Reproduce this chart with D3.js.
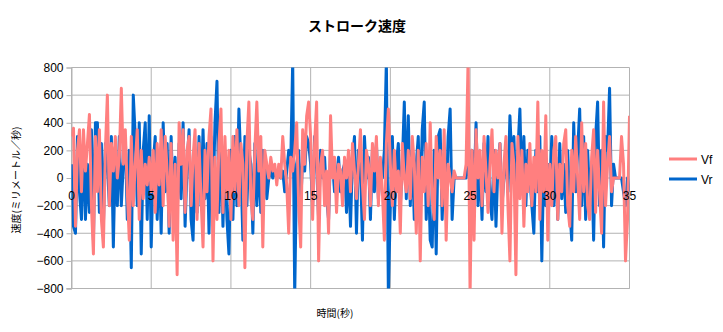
<!DOCTYPE html>
<html><head><meta charset="utf-8">
<script src="https://cdn.jsdelivr.net/npm/d3@7"></script>
<style>body{margin:0;background:#fff}svg{display:block}</style>
</head><body>
<svg id="c" width="723" height="332"></svg>
<script>
const title = "ストローク速度";
const xTitle = "時間(秒)";
const yTitle = "速度(ミリメートル／秒)";
const seriesNames = ["Vf", "Vr"];
const xTicks = [0, 5, 10, 15, 20, 25, 30, 35];
const yTicks = [-800, -600, -400, -200, 0, 200, 400, 600, 800];
const timeStep = 0.125;

const vf = [
 300,360,-350,200,350,-100,350,50,250,460,-200,-550,300,-100,350,-300,-500,200,600,-200,250,50,300,0,150,650,100,350,-100,-450,300,-200,100,350,-300,200,-150,100,-50,150,
 -100,200,-250,250,-50,350,-200,300,50,-350,250,-450,100,-700,400,100,350,-250,200,300,-200,150,350,-300,250,-150,-500,200,-100,300,500,-600,150,-300,250,500,-250,300,-150,200,
 -300,300,-100,350,-200,250,100,-650,250,550,-150,-300,200,550,50,300,-500,200,100,0,150,50,100,-50,100,0,300,100,-50,-400,150,50,200,400,-200,-500,350,100,450,550,
 300,-300,250,550,-600,100,200,-200,50,-400,450,0,150,-250,100,50,-200,150,0,200,-100,250,50,-150,100,350,-50,-300,200,100,-200,250,50,300,-200,150,-100,-450,250,500,
 100,-200,200,-100,50,-400,250,0,-100,200,-150,300,100,-400,200,-600,150,-100,250,-200,400,-150,-300,300,0,200,-200,350,-450,100,0,-100,50,0,0,0,0,0,100,850,
 -850,200,-450,350,0,200,-200,300,50,-250,100,350,-100,200,0,250,-400,100,300,-200,-600,250,100,-700,300,-150,200,-350,100,-100,250,-200,150,-100,550,-300,200,-100,450,-450,
 100,-200,200,300,-300,100,-100,250,350,-200,-350,200,-100,300,0,-300,400,-100,250,-200,-300,150,350,-250,200,-100,-400,550,-200,100,300,-100,0,0,0,0,300,100,-600,-300,450
];
const vr = [
 100,-350,-400,300,-100,-300,250,-300,100,-250,350,-450,400,400,-250,250,-350,250,100,-200,300,-500,200,-200,300,-200,100,300,-300,200,-650,600,300,-200,400,-550,200,400,-300,450,
 -500,100,300,-300,200,-400,400,-100,250,-400,300,-200,150,-300,250,-150,400,-350,100,350,-300,-450,200,-250,300,-200,350,-150,250,-400,300,-200,400,700,-250,300,-350,200,-300,-550,
 200,-300,300,-200,500,100,-450,300,-200,200,100,-400,250,-200,150,-250,200,100,-150,0,50,0,50,0,50,0,50,-100,50,200,100,850,-850,100,200,-200,150,50,300,250,
 100,-200,300,100,-300,200,0,150,-150,-300,200,100,-100,0,150,-100,50,100,-250,100,-350,150,300,-400,200,100,-450,300,0,150,-300,200,-100,250,-150,100,0,200,850,-850,
 -200,300,-300,100,250,-200,100,550,-150,450,-200,200,-300,100,300,-250,350,550,-300,100,-450,-500,200,-550,300,350,-300,100,-200,300,500,-300,0,0,0,0,0,0,0,100,
 0,200,-100,400,-200,100,-300,250,-100,300,-150,-300,200,-350,100,250,-200,0,200,-100,450,100,300,-200,200,500,-100,300,-200,200,0,-200,-400,200,-100,300,-600,150,-200,100,
 -100,300,-200,150,-300,250,-150,100,-250,200,-200,-450,400,-100,200,500,-200,300,-300,200,-150,100,-450,300,550,-200,200,-500,300,200,650,-200,100,0,0,0,0,-100,-200,0,-100
];

const W = 723, H = 332;
const svg = d3.select("#c");
const x = d3.scaleLinear().domain([0, 35]).range([71.5, 629.5]);
const y = d3.scaleLinear().domain([-800, 800]).range([288.5, 67.5]);
const gridColor = "#b3b3b3";

// grid
svg.append("g").selectAll("line.h").data(yTicks).join("line")
  .attr("x1", x(0)).attr("x2", x(35))
  .attr("y1", d => y(d)).attr("y2", d => y(d))
  .attr("stroke", gridColor).attr("stroke-width", 1);
svg.append("g").selectAll("line.v").data(xTicks).join("line")
  .attr("x1", d => x(d)).attr("x2", d => x(d))
  .attr("y1", y(800)).attr("y2", y(-800))
  .attr("stroke", gridColor).attr("stroke-width", 1);

// y axis
const yAxis = svg.append("g").attr("transform", `translate(${x(0)},0)`)
  .call(d3.axisLeft(y).tickValues(yTicks).tickSize(5).tickPadding(3));
yAxis.select(".domain").attr("stroke", gridColor);
yAxis.selectAll(".tick line").attr("stroke", gridColor);
yAxis.selectAll("text").attr("font-family", "Liberation Sans, Arial, sans-serif")
  .attr("font-size", 12).attr("fill", "#000");

// bottom line
svg.append("line").attr("x1", x(0)-5).attr("x2", x(35))
  .attr("y1", y(-800)).attr("y2", y(-800)).attr("stroke", gridColor);

// series
const clip = svg.append("clipPath").attr("id", "pc").append("rect")
  .attr("x", x(0)).attr("y", y(800)).attr("width", x(35)-x(0)).attr("height", y(-800)-y(800));
const line = d3.line().x((d, i) => x(i * timeStep)).y(d => y(d));
const g = svg.append("g").attr("clip-path", "url(#pc)");
g.append("path").datum(vr).attr("d", line).attr("fill", "none")
  .attr("stroke", "#0066cc").attr("stroke-width", 3).attr("stroke-linejoin", "round");
g.append("path").datum(vf).attr("d", line).attr("fill", "none")
  .attr("stroke", "#ff7f7f").attr("stroke-width", 3).attr("stroke-linejoin", "round");

// x tick labels at zero line
svg.append("g").selectAll("text").data(xTicks).join("text")
  .attr("x", d => x(d)).attr("y", y(0) + 22)
  .attr("text-anchor", "middle")
  .attr("font-family", "Liberation Sans, Arial, sans-serif").attr("font-size", 12)
  .attr("fill", "#000").text(d => d);

// titles
svg.append("text").attr("x", 357).attr("y", 31).attr("text-anchor", "middle")
  .attr("font-family", "Noto Sans CJK JP").attr("font-size", 14).attr("font-weight", "bold")
  .text(title);
svg.append("text").attr("x", 335).attr("y", 317).attr("text-anchor", "middle")
  .attr("font-family", "Noto Sans CJK JP").attr("font-size", 10).text(xTitle);
svg.append("text").attr("transform", "translate(20,180) rotate(-90)").attr("text-anchor", "middle")
  .attr("font-family", "Noto Sans CJK JP").attr("font-size", 10).text(yTitle);

// legend
const legColors = ["#ff7f7f", "#0066cc"];
const leg = svg.append("g").selectAll("g").data(seriesNames).join("g")
  .attr("transform", (d, i) => `translate(669,${159 + i * 20})`);
leg.append("line").attr("x1", 0).attr("x2", 28).attr("y1", 0).attr("y2", 0)
  .attr("stroke", (d, i) => legColors[i]).attr("stroke-width", 3);
leg.append("text").attr("x", 32).attr("y", 5)
  .attr("font-family", "Liberation Sans, Arial, sans-serif").attr("font-size", 12).text(d => d);
</script>
</body></html>
